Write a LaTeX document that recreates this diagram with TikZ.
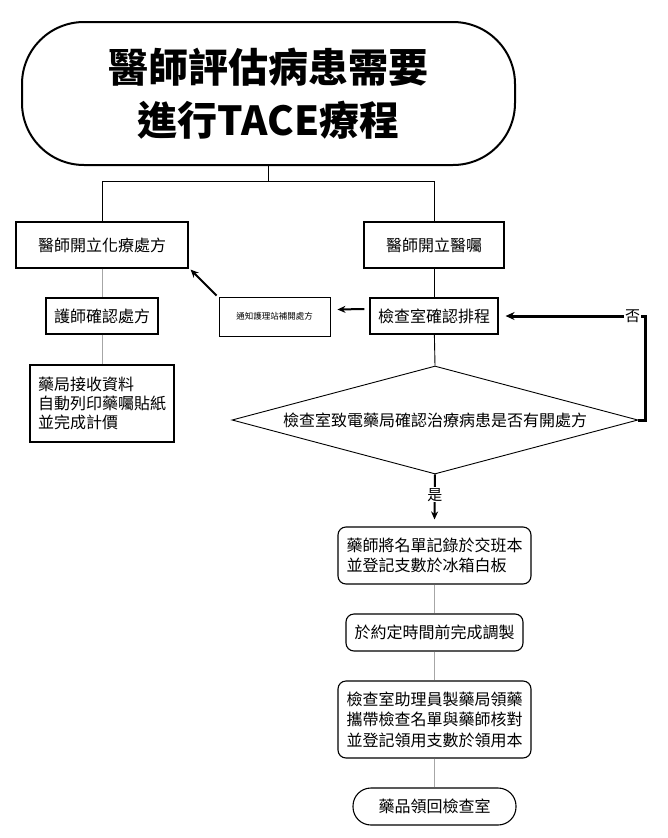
\documentclass[tikz,border=0pt]{standalone}
\usepackage{fontspec}
\setmainfont{Noto Sans CJK TC}
\usetikzlibrary{positioning, arrows.meta, shapes.geometric}

\begin{document}
\begin{tikzpicture}[
          x=1pt, y=-1pt,
          terminal/.style={draw, rectangle, rounded corners=62pt, line width=2pt, align=center},
          endpoint/.style={draw, rectangle, rounded corners=18pt, line width=1.1pt, font=\fontsize{16}{19}\selectfont},
          box/.style={draw, rectangle, line width=1.1pt, font=\fontsize{16}{19}\selectfont},
          roundbox/.style={draw, rectangle, rounded corners=8pt, line width=1.1pt, font=\fontsize{16}{20.5}\selectfont, align=left},
          decision/.style={draw, diamond, line width=0.9pt, inner sep=0pt, shape aspect=3.76, font=\fontsize{16}{19}\selectfont},
          link/.style={line width=0.9pt},
          graylink/.style={line width=0.9pt, gray!70},
          thickarrow/.style={line width=2pt, -{Stealth[length=8pt, width=7pt]}},
          loop/.style={line width=3pt, -{Stealth[length=9pt, width=8pt]}}
      ]
      \useasboundingbox (0,0) rectangle (667,838);

      \node[terminal, minimum width=493, minimum height=143,
            font=\fontsize{40}{53}\selectfont\bfseries] (assess) at (268.5,93.5) {醫師評估病患需要\\進行TACE療程};

      \node[box, minimum width=172, minimum height=46] (chemo) at (102,245) {醫師開立化療處方};
      \node[box, minimum width=140, minimum height=46] (order) at (434,245) {醫師開立醫囑};
      \node[box, minimum width=112, minimum height=36] (nurse) at (102,316) {護師確認處方};
      \node[box, minimum width=144, minimum height=77, align=left] (pharm) at (102,403.5) {藥局接收資料\\自動列印藥囑貼紙\\並完成計價};
      \node[box, minimum width=111, minimum height=39, line width=0.9pt,
            font=\fontsize{8.5}{10}\selectfont] (notify) at (274.5,316.5) {通知護理站補開處方};
      \node[box, minimum width=128, minimum height=36] (schedule) at (434,316) {檢查室確認排程};

      \node[decision, minimum width=406, minimum height=108] (check) at (435,420) {檢查室致電藥局確認治療病患是否有開處方};

      \node[roundbox, minimum width=193, minimum height=57] (record) at (434.5,555.5) {藥師將名單記錄於交班本\\並登記支數於冰箱白板};
      \node[roundbox, minimum width=177, minimum height=37] (prep) at (434.5,632.5) {於約定時間前完成調製};
      \node[roundbox, minimum width=193, minimum height=77] (collect) at (434.5,719.5) {檢查室助理員製藥局領藥\\攜帶檢查名單與藥師核對\\並登記領用支數於領用本};
      \node[endpoint, minimum width=163, minimum height=37] (return) at (434.5,806.5) {藥品領回檢查室};

      % top split
      \draw[link] (assess.south) -- ++(0,15) coordinate (split);
      \draw[link] (split) -| (chemo.north);
      \draw[link] (split) -| (order.north);

      \draw[graylink] (chemo) -- (nurse);
      \draw[graylink] (nurse) -- (pharm);
      \draw[link] (order) -- (schedule);
      \draw[link] (schedule) -- (check.north);

      \draw[thickarrow] ([shift={(-2,-1)}]notify.north west) -- ([shift={(2,1)}]chemo.south east);
      \draw[thickarrow] ([shift={(-5,-7)}]schedule.west) -- ([shift={(7,-7)}]notify.east);

      % no / yes
      \draw[loop] (check.east) -- ++(7,0) |- node[pos=0.546, fill=white, inner sep=1pt,
            font=\fontsize{15}{18}\selectfont] {否} ([xshift=7]schedule.east);
      \draw[thickarrow] (check.south) -- node[pos=0.45, fill=white, inner sep=1pt,
            font=\fontsize{15}{18}\selectfont] {是} ([yshift=7]record.north);

      \draw[graylink] (record) -- (prep);
      \draw[graylink] (prep) -- (collect);
      \draw[graylink] (collect) -- (return);

      \end{tikzpicture}
\end{document}
